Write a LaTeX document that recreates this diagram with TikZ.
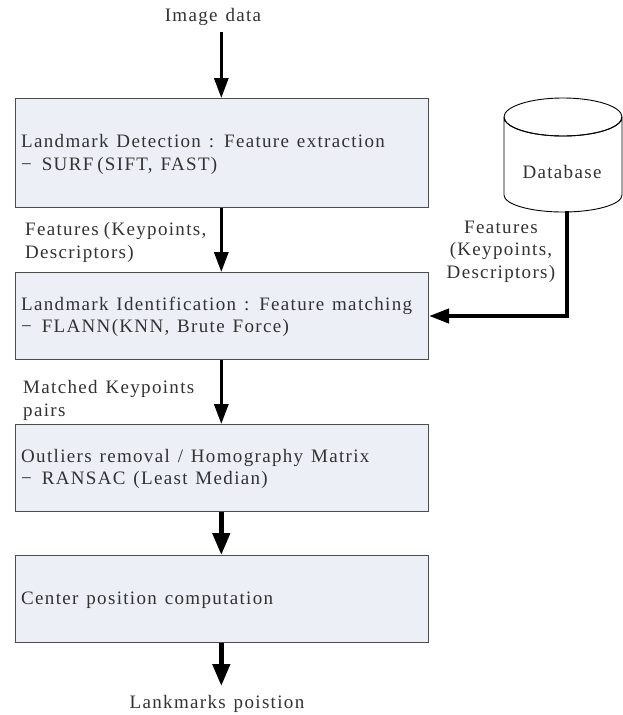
\documentclass[tikz,border=0pt]{standalone}
\usepackage{fontspec}
\setmainfont[LetterSpace=7,WordSpace=1.3]{Liberation Serif}
\usetikzlibrary{arrows.meta}
\definecolor{boxfill}{RGB}{236,240,246}
\definecolor{inkc}{RGB}{50,50,50}
\tikzset{
  x=1pt,y=-1pt,
  procbox/.style={draw=black!70!white,line width=1pt,fill=boxfill,anchor=north west,inner sep=0pt,minimum width=413.5pt},
  lbl/.style={text=inkc,font=\fontsize{19}{22.3}\selectfont,align=left,inner sep=0pt},
  flow/.style={line width=3.2pt,-{Triangle[length=20pt,width=14pt]}},
  flowb/.style={line width=4.6pt,-{Triangle[length=22pt,width=17pt]}},
}
\begin{document}
\begin{tikzpicture}
\useasboundingbox (0,0) rectangle (623,715);
\node[procbox,minimum height=108.5pt] (b1) at (14.5,98) {};
\node[procbox,minimum height=87pt] (b2) at (14.5,272) {};
\node[procbox,minimum height=87pt] (b3) at (14.5,424) {};
\node[procbox,minimum height=87pt] (b4) at (14.5,555) {};
\node[lbl,anchor=base west] (t1) at (21,170) {Landmark Detection : Feature extraction\\−\kern2pt{} SURF\kern4pt(SIFT, FAST)};
\node[lbl,anchor=base west] (t2) at (21,332.5) {Landmark Identification : Feature matching\\−\kern2pt{} FLANN(KNN, Brute Force)};
\node[lbl,anchor=base west] (t3) at (21,484.5) {Outliers removal / Homography Matrix\\−\kern2pt{} RANSAC (Least Median)};
\node[lbl,anchor=base west] (t4) at (21,604) {Center position computation};
\node[lbl,anchor=base] (in) at (213,21) {Image data};
\node[lbl,anchor=base] (out) at (217,708) {Lankmarks poistion};
\coordinate (inS) at (221.3,32);
\coordinate (outE) at (221.3,686);
\node[lbl,anchor=base west] (f1) at (25,258) {Features\kern5pt(Keypoints,\\Descriptors)};
\node[lbl,anchor=base west] (f2) at (23,416) {Matched Keypoints\\pairs};
\node[lbl,align=center,anchor=base] (f3) at (501,278) {Features\\(Keypoints,\\Descriptors)};
\draw[black,line width=0.9pt,fill=white] (504,117) -- (504,195) arc[start angle=180,end angle=360,x radius=59,y radius=-17] -- (622,117) arc[start angle=0,end angle=360,x radius=59,y radius=-19];
\draw[black,line width=0.9pt] (504,117) arc[start angle=180,end angle=360,x radius=59,y radius=-19];
\node[lbl,anchor=base] (db) at (562,178) {Database};
\coordinate (dbS) at (567,211);
\coordinate (corner) at (567,316);
\draw[flow] (inS) -- (inS |- b1.north);
\draw[flow] (b1.south -| inS) -- (inS |- b2.north);
\draw[flow] (b2.south -| inS) -- (inS |- b3.north);
\draw[flowb] (b3.south -| inS) -- (inS |- b4.north);
\draw[flowb] (b4.south -| inS) -- (outE);
\draw[flow,line width=4pt,line join=miter] (dbS) -- (corner) -- (b2.east |- corner);
\end{tikzpicture}
\end{document}
